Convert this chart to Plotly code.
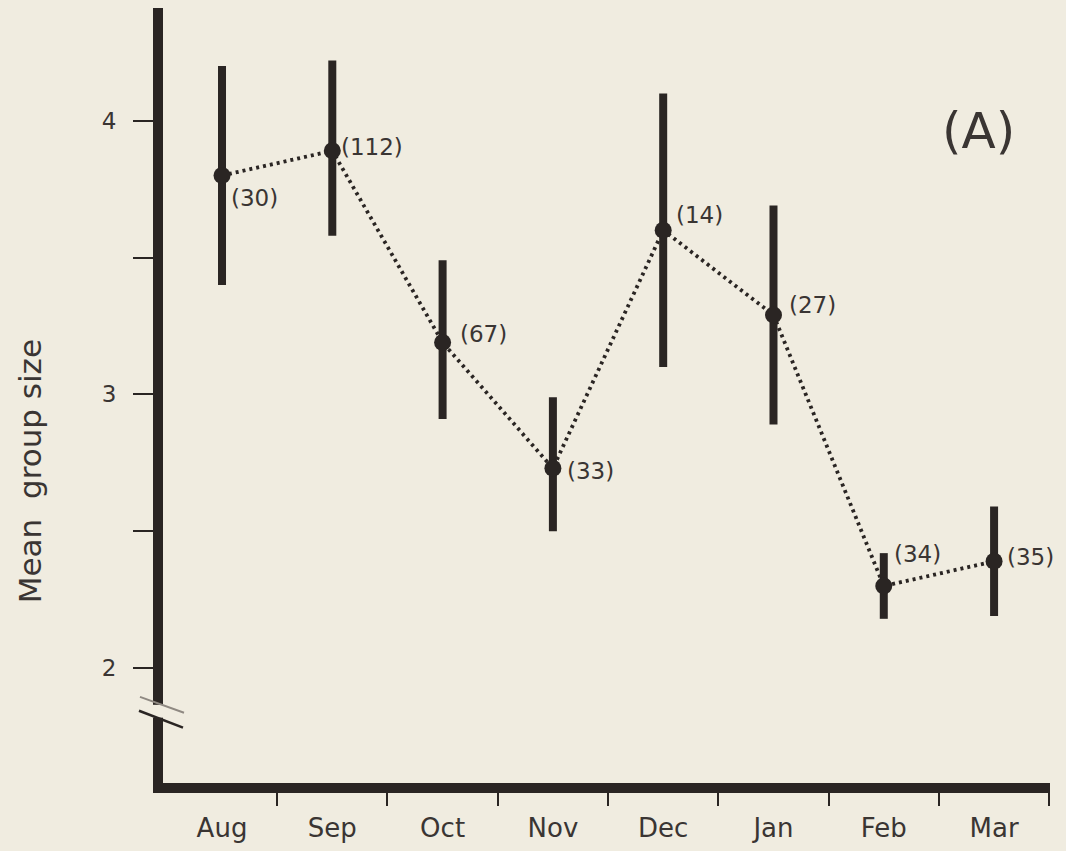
import plotly.graph_objects as go

# Monthly mean group size with range bars and sample sizes
months = ["Aug", "Sep", "Oct", "Nov", "Dec", "Jan", "Feb", "Mar"]
mean_size = [3.80, 3.89, 3.19, 2.73, 3.60, 3.29, 2.30, 2.39]
upper = [4.20, 4.22, 3.49, 2.99, 4.10, 3.69, 2.42, 2.59]
lower = [3.40, 3.58, 2.91, 2.50, 3.10, 2.89, 2.18, 2.19]
n_obs = [30, 112, 67, 33, 14, 27, 34, 35]

# label placement (pixels: right of point, up from point)
label_dx = [7, 7, 15, 12, 11, 14, 8, 11]
label_dy = [-23, 4, 8, -3, 15, 10, 32, 4]

INK = "#2a2523"
TEXT = "#3a3533"
BG = "#f0ece0"
FONT = "DejaVu Sans"

xs = list(range(len(months)))
err_plus = [u - m for u, m in zip(upper, mean_size)]
err_minus = [m - l for m, l in zip(mean_size, lower)]

fig = go.Figure()
fig.add_trace(go.Scatter(
    x=xs, y=mean_size,
    mode="lines+markers",
    line=dict(color=INK, width=3.8, dash="3px,4px"),
    marker=dict(size=17, color=INK),
    error_y=dict(type="data", array=err_plus, arrayminus=err_minus,
                 symmetric=False, width=0, thickness=8, color=INK),
    showlegend=False,
    hoverinfo="skip",
))

# invisible trace so the label axis is drawn
fig.add_trace(go.Scatter(x=xs, y=mean_size, xaxis="x2", mode="markers",
                         marker=dict(opacity=0), showlegend=False, hoverinfo="skip"))

for i, (n, dx, dy) in enumerate(zip(n_obs, label_dx, label_dy)):
    fig.add_annotation(x=xs[i], y=mean_size[i], xref="x", yref="y",
                       text=f"({n})", showarrow=False, xanchor="left", yanchor="middle",
                       xshift=dx, yshift=dy, font=dict(family=FONT, size=23, color=TEXT))

L, R, T, B = 163, 1050, 8, 791
W, H = 1066, 851
xr = [-0.535, 7.507]
yr = [1.580, 4.412]

def px(x):
    return (x - L) / (R - L)

def py(y):
    return (B - y) / (B - T)

# axis break on the y axis
fig.add_shape(type="rect", xref="paper", yref="paper",
              x0=px(145), x1=px(172), y0=py(725), y1=py(712),
              fillcolor=BG, line=dict(width=0), layer="above")
fig.add_shape(type="line", xref="paper", yref="paper",
              x0=px(140), y0=py(704), x1=px(184), y1=py(720),
              line=dict(color="#8f8982", width=2), layer="above")
fig.add_shape(type="line", xref="paper", yref="paper",
              x0=px(139), y0=py(718), x1=px(183), y1=py(735),
              line=dict(color=INK, width=2.5), layer="above")

fig.add_annotation(xref="paper", yref="paper", x=px(30), y=py(476),
                   xanchor="center", yanchor="middle",
                   text="Mean  group size", textangle=-90, showarrow=False,
                   font=dict(family=FONT, size=31, color=TEXT))
fig.add_annotation(xref="paper", yref="paper", x=px(978), y=py(132),
                   xanchor="center", yanchor="middle",
                   text="(A)", showarrow=False,
                   font=dict(family=FONT, size=50, color=TEXT))

fig.update_layout(
    width=W, height=H,
    margin=dict(l=L, r=W - R, t=T, b=H - B),
    paper_bgcolor=BG, plot_bgcolor=BG,
    xaxis=dict(range=xr, showgrid=False, zeroline=False,
               showline=True, linewidth=10, linecolor=INK,
               tickvals=[i + 0.5 for i in xs], ticktext=[""] * len(xs),
               ticks="outside", ticklen=13, tickwidth=2, tickcolor=INK),
    xaxis2=dict(range=xr, overlaying="x", side="bottom", showgrid=False,
                zeroline=False, showline=False, ticks="",
                tickvals=xs, ticktext=months, ticklabelstandoff=27,
                tickfont=dict(family=FONT, size=26, color=TEXT)),
    yaxis=dict(range=yr, showgrid=False, zeroline=False,
               showline=True, linewidth=10, linecolor=INK,
               tickvals=[2, 3, 4], ticktext=["2", "3", "4"],
               ticks="outside", ticklen=20, tickwidth=2, tickcolor=INK,
               ticklabelstandoff=12,
               minor=dict(tickvals=[2.5, 3.5], ticks="outside", ticklen=20,
                          tickwidth=2, tickcolor=INK),
               tickfont=dict(family=FONT, size=23, color=TEXT)),
)

fig.write_html("out.html")
